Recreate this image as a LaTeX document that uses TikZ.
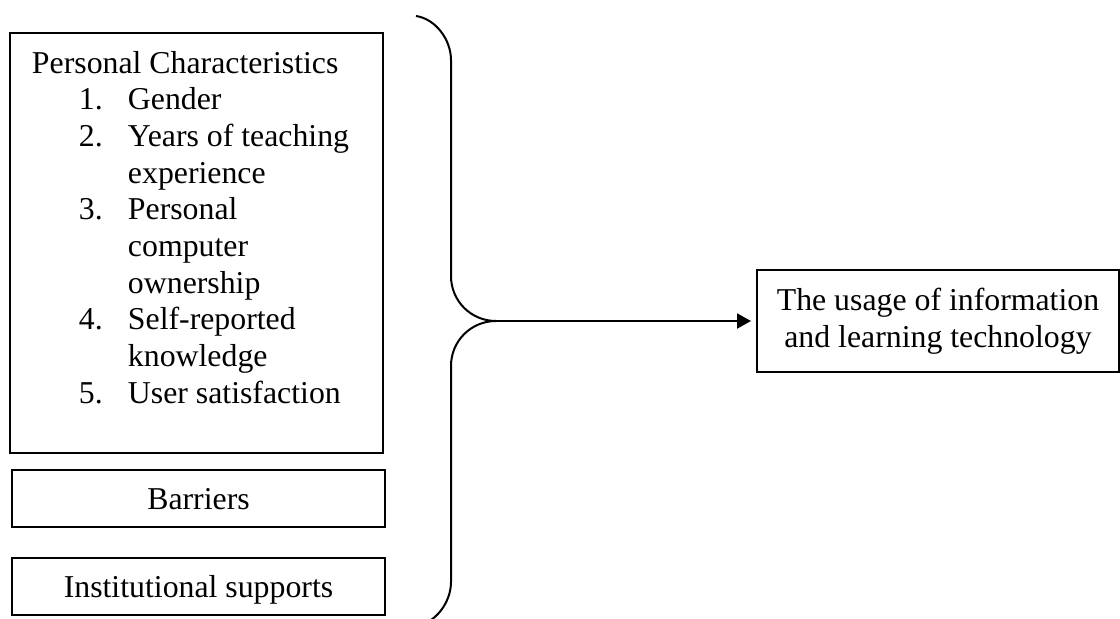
\documentclass[tikz,border=0pt]{standalone}
\usepackage{fontspec}
\setmainfont{Liberation Serif}
\usetikzlibrary{positioning,arrows.meta}
\tikzset{refpx/.style={x=0.5pt,y=-0.5pt,every node/.style={inner sep=0pt,outer sep=0pt,anchor=center,align=center}}}
\definecolor{fwline}{HTML}{000000}
\tikzset{
  fwcaixa/.style={draw=fwline,line width=0.7pt,font=\fontsize{15.9}{18.35}\selectfont},
  fwtexto/.style={font=\fontsize{15.9}{18.35}\selectfont,text=fwline},
  fwchave/.style={draw=fwline,line width=1pt},
  fwseta/.style={-{Triangle[length=7pt,width=7.5pt]},line width=1pt,fwline,shorten >=3pt},
}

\begin{document}
\begin{tikzpicture}[refpx,
  fator/.style={fwcaixa,minimum width=186.5pt,minimum height=28.5pt,text height=10.5pt,text depth=0pt}]
  \useasboundingbox (0,0) rectangle (1120,618);
  % left column
  \node[fwcaixa,anchor=north west,minimum width=186.5pt,minimum height=210pt] (pessoal) at (10,33) {};
  \node[fwtexto,anchor=base west,align=left] (lista) at (32,73) {%
    \begin{tabular}[t]{@{\hspace{23.5pt}}p{24.5pt}@{}l@{}}
      \multicolumn{2}{@{}l@{}}{Personal Characteristics}\\
      1. & Gender\\
      2. & Years of teaching\\
         & experience\\
      3. & Personal\\
         & computer\\
         & ownership\\
      4. & Self-reported\\
         & knowledge\\
      5. & User satisfaction
    \end{tabular}};
  \node[fator] (barreiras) at (198.5,498.5) {Barriers};
  \node[fator] (apoio) at (198.5,586.5) {Institutional supports};
  % outcome
  \node[fwcaixa,minimum width=181pt,minimum height=51pt] (uso) at (938,321)
    {The usage of information\\and learning technology};
  % brace
  \coordinate (ponta) at (496,321);
  \draw[fwchave] (416,16) .. controls (436,19) and (451,40) .. (451,60) -- (451,276)
    .. controls (451,301) and (471,321) .. (ponta)
    .. controls (471,321) and (451,341) .. (451,366) -- (451,582)
    .. controls (451,602) and (436,623) .. (416,626);
  \draw[fwseta] (ponta) -- (uso.west);
\end{tikzpicture}
\end{document}
